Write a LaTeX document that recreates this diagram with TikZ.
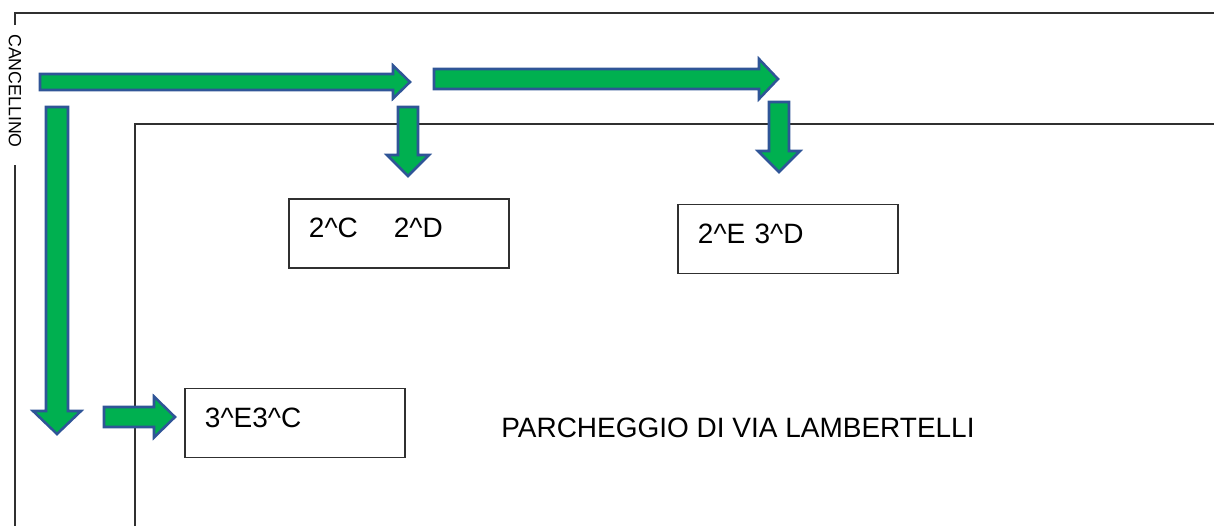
\documentclass[tikz,border=0pt]{standalone}
\usepackage{fontspec}
\setmainfont{Liberation Sans}
\usepackage{xcolor}
\definecolor{arrowfill}{HTML}{00B050}
\definecolor{arrowedge}{HTML}{2F5597}
\definecolor{walldark}{HTML}{303030}
\usepackage{tikz}
\usetikzlibrary{positioning,calc}

% block arrows: tail, tip, axis, half shaft, half head, head length
\newcommand{\harrow}[6]{\draw[blockarr] (#1,{#3-#4}) -- ({#2-#6},{#3-#4}) -- ({#2-#6},{#3-#5}) -- (#2,#3) -- ({#2-#6},{#3+#5}) -- ({#2-#6},{#3+#4}) -- (#1,{#3+#4}) -- cycle;}
\newcommand{\varrow}[6]{\draw[blockarr] ({#3-#4},#1) -- ({#3-#4},{#2-#6}) -- ({#3-#5},{#2-#6}) -- (#3,#2) -- ({#3+#5},{#2-#6}) -- ({#3+#4},{#2-#6}) -- ({#3+#4},#1) -- cycle;}

\begin{document}
\begin{tikzpicture}[x=0.025cm, y=-0.025cm,
      wall/.style={draw=walldark, line width=0.9pt},
      blockarr/.style={fill=arrowfill, draw=arrowedge, line width=1.8pt, line join=miter},
      spot/.style={rectangle, draw=walldark, line width=0.9pt, minimum width=5.5cm, minimum height=1.725cm, text width=4.5cm, inner xsep=0.5cm, align=left, text height=0.5cm, text depth=0.29cm, font=\fontsize{19.9}{24}\selectfont},
      bigtext/.style={font=\fontsize{19.9}{24}\selectfont, inner sep=0pt}
    ]
      \useasboundingbox (0,0) rectangle (1214,526);
      % walls
      \draw[wall] (15,25) -- (15,13) -- (1214,13);
      \draw[wall] (15,165) -- (15,526);
      \draw[wall] (135,526) -- (135,124) -- (1214,124);
      \node[rotate=-90, inner sep=0pt, font=\fontsize{12.6}{14}\selectfont] (gate) at (15,91) {CANCELLINO};
      % parking spots
      \node[spot] (spotCD) at (399,233.5) {2\textasciicircum C\hspace*{0.9cm}2\textasciicircum D};
      \node[spot] (spotED) at (788,239) {2\textasciicircum E 3\textasciicircum D};
      \node[spot] (spotEC) at (295,423) {3\textasciicircum E3\textasciicircum C};
      \node[bigtext, anchor=base west] (parking) at (501,437) {PARCHEGGIO DI VIA LAMBERTELLI};
      % arrows
      \harrow{40}{410}{82}{8}{16.5}{17}
      \harrow{434}{778}{79}{10}{20}{19}
      \varrow{107}{176}{408}{10}{21}{21}
      \varrow{102}{172}{779}{10}{21}{21}
      \varrow{107}{434}{57}{11}{24}{23}
      \harrow{104}{175}{417}{10}{20.5}{21}
    \end{tikzpicture}
\end{document}
